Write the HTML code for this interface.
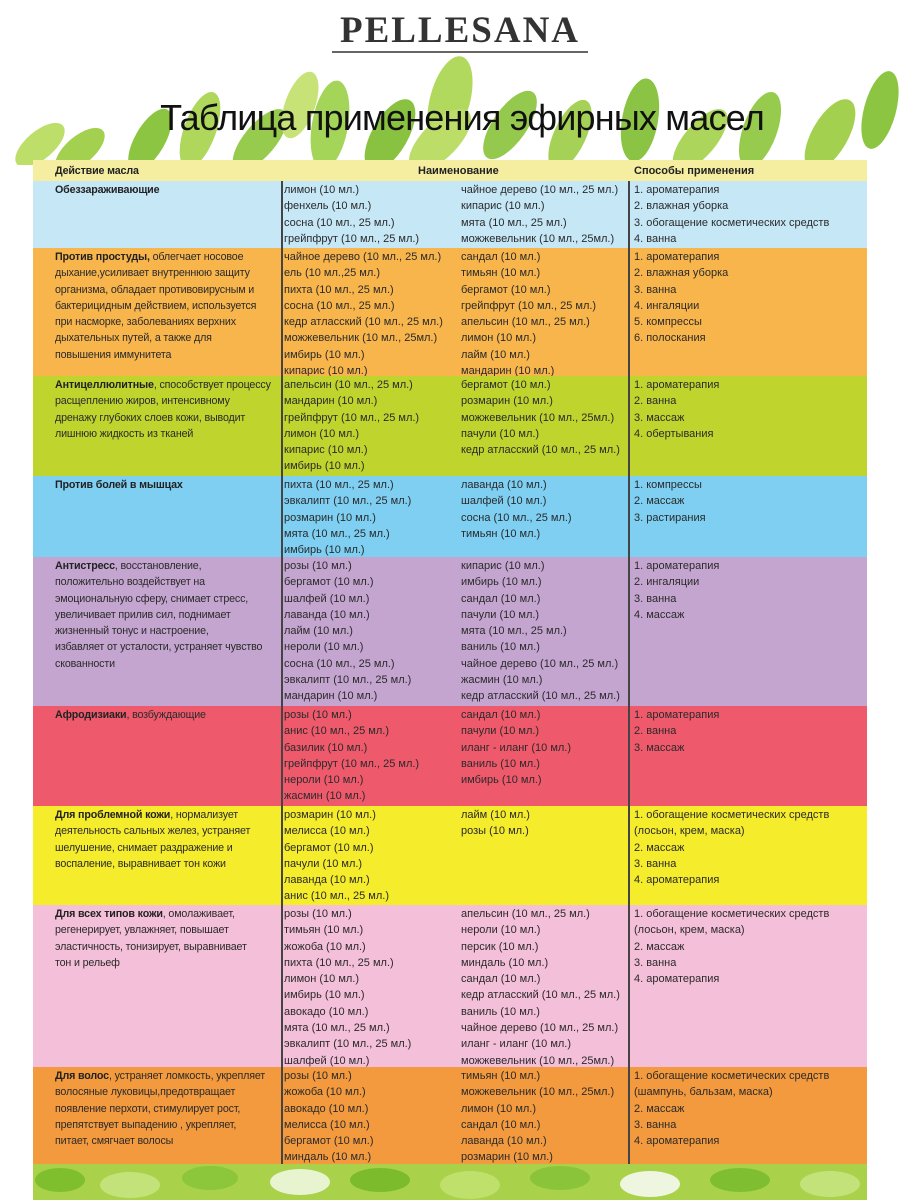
<!DOCTYPE html>
<html><head><meta charset="utf-8">
<style>
*{margin:0;padding:0;box-sizing:border-box}
body{width:900px;height:1200px;background:#fff;position:relative;overflow:hidden;font-family:"Liberation Sans","DejaVu Sans",sans-serif;color:#2a2a2a}
.r{position:absolute;left:33px;width:834px}
.c{position:absolute;top:1px;font-size:11px;line-height:16.3px;white-space:nowrap}
.c1{left:22px;font-size:10.7px;letter-spacing:-0.15px}
.c2{left:251px}.c3{left:428px}.c4{left:601px}
b{font-weight:bold;color:#222}
.vl{position:absolute;top:181px;height:983px;width:2px;background:#444}
</style></head><body>
<svg style="position:absolute;left:0;top:45px" width="900" height="120">
<g opacity="0.9">
<ellipse cx="40" cy="100" rx="30" ry="14" fill="#b6dc5a" transform="rotate(-40 40 100)"/>
<ellipse cx="80" cy="105" rx="30" ry="14" fill="#9acb3c" transform="rotate(-40 80 105)"/>
<ellipse cx="150" cy="95" rx="35" ry="15" fill="#7fbf2e" transform="rotate(-60 150 95)"/>
<ellipse cx="200" cy="85" rx="40" ry="16" fill="#a6d34a" transform="rotate(-70 200 85)"/>
<ellipse cx="260" cy="95" rx="38" ry="16" fill="#8cc63a" transform="rotate(-50 260 95)"/>
<ellipse cx="300" cy="60" rx="35" ry="15" fill="#c2e06a" transform="rotate(-70 300 60)"/>
<ellipse cx="330" cy="80" rx="45" ry="18" fill="#9bd046" transform="rotate(-80 330 80)"/>
<ellipse cx="390" cy="90" rx="40" ry="18" fill="#7cbc2c" transform="rotate(-60 390 90)"/>
<ellipse cx="450" cy="55" rx="45" ry="20" fill="#a9d54c" transform="rotate(-75 450 55)"/>
<ellipse cx="440" cy="95" rx="40" ry="18" fill="#b5da58" transform="rotate(-45 440 95)"/>
<ellipse cx="510" cy="80" rx="40" ry="17" fill="#8ac43a" transform="rotate(-55 510 80)"/>
<ellipse cx="570" cy="90" rx="38" ry="16" fill="#9ccd44" transform="rotate(-65 570 90)"/>
<ellipse cx="640" cy="75" rx="42" ry="18" fill="#7fbe30" transform="rotate(-80 640 75)"/>
<ellipse cx="700" cy="95" rx="38" ry="16" fill="#a4d24a" transform="rotate(-50 700 95)"/>
<ellipse cx="760" cy="85" rx="40" ry="17" fill="#8cc63a" transform="rotate(-70 760 85)"/>
<ellipse cx="830" cy="90" rx="40" ry="18" fill="#9acb3c" transform="rotate(-60 830 90)"/>
<ellipse cx="880" cy="65" rx="40" ry="16" fill="#7fbf2e" transform="rotate(-75 880 65)"/>
</g></svg>
<svg style="position:absolute;left:0;top:1160px" width="900" height="40">
<rect x="33" y="0" width="834" height="40" fill="#a9d24a"/>
<ellipse cx="60" cy="20" rx="25" ry="12" fill="#7fbf2e"/><ellipse cx="130" cy="25" rx="30" ry="13" fill="#c4e27a"/>
<ellipse cx="210" cy="18" rx="28" ry="12" fill="#8cc63a"/><ellipse cx="300" cy="22" rx="30" ry="13" fill="#e8f4d0"/>
<ellipse cx="380" cy="20" rx="30" ry="12" fill="#7cbc2c"/><ellipse cx="470" cy="25" rx="30" ry="14" fill="#bfe06a"/>
<ellipse cx="560" cy="18" rx="30" ry="12" fill="#8ac43a"/><ellipse cx="650" cy="24" rx="30" ry="13" fill="#eef6e0"/>
<ellipse cx="740" cy="20" rx="30" ry="12" fill="#7fbe30"/><ellipse cx="830" cy="24" rx="30" ry="13" fill="#c4e27a"/>
</svg>
<div style="position:absolute;left:10px;width:900px;top:9px;text-align:center;font-family:'Liberation Serif',serif;font-weight:bold;font-size:37px;letter-spacing:2px;color:#333">PELLESANA</div>
<div style="position:absolute;left:332px;top:51px;width:256px;height:2px;background:#666"></div>
<div style="position:absolute;left:12px;width:900px;top:97px;text-align:center;font-size:36px;color:#111;letter-spacing:-0.8px">Таблица применения эфирных масел</div>

<div class="r" style="top:160px;height:21px;background:#f5eea0"><div class="c c1" style="top:3px"><b>Действие масла</b></div><div class="c" style="left:385px;top:3px"><b>Наименование</b></div><div class="c c4" style="top:3px"><b>Способы применения</b></div></div>

<div class="r" style="top:181px;height:67px;background:#c6e7f6"><div class="c c1"><b>Обеззараживающие</b></div>
<div class="c c2">лимон (10 мл.)<br>фенхель (10 мл.)<br>сосна (10 мл., 25 мл.)<br>грейпфрут (10 мл., 25 мл.)</div>
<div class="c c3">чайное дерево (10 мл., 25 мл.)<br>кипарис (10 мл.)<br>мята (10 мл., 25 мл.)<br>можжевельник (10 мл., 25мл.)</div>
<div class="c c4">1. ароматерапия<br>2. влажная уборка<br>3. обогащение косметических средств<br>4. ванна</div></div>

<div class="r" style="top:248px;height:128px;background:#f8b54c"><div class="c c1"><b>Против простуды,</b> облегчает носовое<br>дыхание,усиливает внутреннюю защиту<br>организма, обладает противовирусным и<br>бактерицидным действием, используется<br>при насморке, заболеваниях верхних<br>дыхательных путей, а также для<br>повышения иммунитета</div>
<div class="c c2">чайное дерево (10 мл., 25 мл.)<br>ель (10 мл.,25 мл.)<br>пихта (10 мл., 25 мл.)<br>сосна (10 мл., 25 мл.)<br>кедр атласский (10 мл., 25 мл.)<br>можжевельник (10 мл., 25мл.)<br>имбирь (10 мл.)<br>кипарис (10 мл.)</div>
<div class="c c3">сандал (10 мл.)<br>тимьян (10 мл.)<br>бергамот (10 мл.)<br>грейпфрут (10 мл., 25 мл.)<br>апельсин (10 мл., 25 мл.)<br>лимон (10 мл.)<br>лайм (10 мл.)<br>мандарин (10 мл.)</div>
<div class="c c4">1. ароматерапия<br>2. влажная уборка<br>3. ванна<br>4. ингаляции<br>5. компрессы<br>6. полоскания</div></div>

<div class="r" style="top:376px;height:100px;background:#bfd52e"><div class="c c1"><b>Антицеллюлитные</b>, способствует процессу<br>расщеплению жиров, интенсивному<br>дренажу глубоких слоев кожи, выводит<br>лишнюю жидкость из тканей</div>
<div class="c c2">апельсин (10 мл., 25 мл.)<br>мандарин (10 мл.)<br>грейпфрут (10 мл., 25 мл.)<br>лимон (10 мл.)<br>кипарис (10 мл.)<br>имбирь (10 мл.)</div>
<div class="c c3">бергамот (10 мл.)<br>розмарин (10 мл.)<br>можжевельник (10 мл., 25мл.)<br>пачули (10 мл.)<br>кедр атласский (10 мл., 25 мл.)</div>
<div class="c c4">1. ароматерапия<br>2. ванна<br>3. массаж<br>4. обертывания</div></div>

<div class="r" style="top:476px;height:81px;background:#7ecff2"><div class="c c1"><b>Против болей в мышцах</b></div>
<div class="c c2">пихта (10 мл., 25 мл.)<br>эвкалипт (10 мл., 25 мл.)<br>розмарин (10 мл.)<br>мята (10 мл., 25 мл.)<br>имбирь (10 мл.)</div>
<div class="c c3">лаванда (10 мл.)<br>шалфей (10 мл.)<br>сосна (10 мл., 25 мл.)<br>тимьян (10 мл.)</div>
<div class="c c4">1. компрессы<br>2. массаж<br>3. растирания</div></div>

<div class="r" style="top:557px;height:149px;background:#c4a5d0"><div class="c c1"><b>Антистресс</b>, восстановление,<br>положительно воздействует на<br>эмоциональную сферу, снимает стресс,<br>увеличивает прилив сил, поднимает<br>жизненный тонус и настроение,<br>избавляет от усталости, устраняет чувство<br>скованности</div>
<div class="c c2">розы (10 мл.)<br>бергамот (10 мл.)<br>шалфей (10 мл.)<br>лаванда (10 мл.)<br>лайм (10 мл.)<br>нероли (10 мл.)<br>сосна (10 мл., 25 мл.)<br>эвкалипт (10 мл., 25 мл.)<br>мандарин (10 мл.)</div>
<div class="c c3">кипарис (10 мл.)<br>имбирь (10 мл.)<br>сандал (10 мл.)<br>пачули (10 мл.)<br>мята (10 мл., 25 мл.)<br>ваниль (10 мл.)<br>чайное дерево (10 мл., 25 мл.)<br>жасмин (10 мл.)<br>кедр атласский (10 мл., 25 мл.)</div>
<div class="c c4">1. ароматерапия<br>2. ингаляции<br>3. ванна<br>4. массаж</div></div>

<div class="r" style="top:706px;height:100px;background:#ee5a6c"><div class="c c1"><b>Афродизиаки</b>, возбуждающие</div>
<div class="c c2">розы (10 мл.)<br>анис (10 мл., 25 мл.)<br>базилик (10 мл.)<br>грейпфрут (10 мл., 25 мл.)<br>нероли (10 мл.)<br>жасмин (10 мл.)</div>
<div class="c c3">сандал (10 мл.)<br>пачули (10 мл.)<br>иланг - иланг (10 мл.)<br>ваниль (10 мл.)<br>имбирь (10 мл.)</div>
<div class="c c4">1. ароматерапия<br>2. ванна<br>3. массаж</div></div>

<div class="r" style="top:806px;height:99px;background:#f5ec2c"><div class="c c1"><b>Для проблемной кожи</b>, нормализует<br>деятельность сальных желез, устраняет<br>шелушение, снимает раздражение и<br>воспаление, выравнивает тон кожи</div>
<div class="c c2">розмарин (10 мл.)<br>мелисса (10 мл.)<br>бергамот (10 мл.)<br>пачули (10 мл.)<br>лаванда (10 мл.)<br>анис (10 мл., 25 мл.)</div>
<div class="c c3">лайм (10 мл.)<br>розы (10 мл.)</div>
<div class="c c4">1. обогащение косметических средств<br>(лосьон, крем, маска)<br>2. массаж<br>3. ванна<br>4. ароматерапия</div></div>

<div class="r" style="top:905px;height:162px;background:#f4bfd9"><div class="c c1"><b>Для всех типов кожи</b>, омолаживает,<br>регенерирует, увлажняет, повышает<br>эластичность, тонизирует, выравнивает<br>тон и рельеф</div>
<div class="c c2">розы (10 мл.)<br>тимьян (10 мл.)<br>жожоба (10 мл.)<br>пихта (10 мл., 25 мл.)<br>лимон (10 мл.)<br>имбирь (10 мл.)<br>авокадо (10 мл.)<br>мята (10 мл., 25 мл.)<br>эвкалипт (10 мл., 25 мл.)<br>шалфей (10 мл.)</div>
<div class="c c3">апельсин (10 мл., 25 мл.)<br>нероли (10 мл.)<br>персик (10 мл.)<br>миндаль (10 мл.)<br>сандал (10 мл.)<br>кедр атласский (10 мл., 25 мл.)<br>ваниль (10 мл.)<br>чайное дерево (10 мл., 25 мл.)<br>иланг - иланг (10 мл.)<br>можжевельник (10 мл., 25мл.)</div>
<div class="c c4">1. обогащение косметических средств<br>(лосьон, крем, маска)<br>2. массаж<br>3. ванна<br>4. ароматерапия</div></div>

<div class="r" style="top:1067px;height:97px;background:#f39a3e"><div class="c c1"><b>Для волос</b>, устраняет ломкость, укрепляет<br>волосяные луковицы,предотвращает<br>появление перхоти, стимулирует рост,<br>препятствует выпадению , укрепляет,<br>питает, смягчает волосы</div>
<div class="c c2">розы (10 мл.)<br>жожоба (10 мл.)<br>авокадо (10 мл.)<br>мелисса (10 мл.)<br>бергамот (10 мл.)<br>миндаль (10 мл.)</div>
<div class="c c3">тимьян (10 мл.)<br>можжевельник (10 мл., 25мл.)<br>лимон (10 мл.)<br>сандал (10 мл.)<br>лаванда (10 мл.)<br>розмарин (10 мл.)</div>
<div class="c c4">1. обогащение косметических средств<br>(шампунь, бальзам, маска)<br>2. массаж<br>3. ванна<br>4. ароматерапия</div></div>

<div class="vl" style="left:281px"></div>
<div class="vl" style="left:628px"></div>
</body></html>
